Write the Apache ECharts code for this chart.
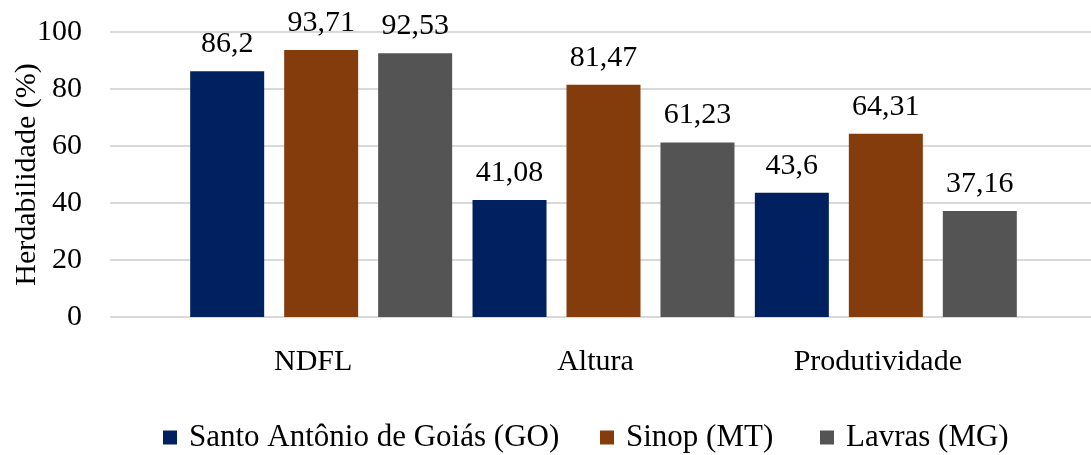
<!DOCTYPE html>
<html>
<head>
<meta charset="utf-8">
<script src="https://cdn.jsdelivr.net/npm/echarts@6/dist/echarts.min.js"></script>
<style>
  html, body { margin: 0; padding: 0; background: #fff; }
  #main { width: 1091px; height: 455px; }
</style>
</head>
<body>
<div id="main"></div>
<script>
var categories = ["NDFL", "Altura", "Produtividade"];
var seriesNames = ["Santo Antônio de Goiás (GO)", "Sinop (MT)", "Lavras (MG)"];
var goValues = [86.2, 41.08, 43.6];
var mtValues = [93.71, 81.47, 64.31];
var mgValues = [92.53, 61.23, 37.16];
var valueLabels = [
  ["86,2", "41,08", "43,6"],
  ["93,71", "81,47", "64,31"],
  ["92,53", "61,23", "37,16"]
];
var yTicks = [0, 20, 40, 60, 80, 100];

var colors = ["#002060", "#843c0c", "#545454"];
var font = "'Liberation Serif', 'Times New Roman', serif";
var fs = 30;
var legendLeft = [163, 600, 820];

var chart = echarts.init(document.getElementById("main"));

function makeSeries(i, values) {
  return {
    name: seriesNames[i],
    type: "bar",
    xAxisIndex: 1,
    yAxisIndex: 1,
    data: values,
    barWidth: 74,
    barGap: "27%",
    itemStyle: { color: colors[i] },
    label: {
      show: true,
      position: "top",
      distance: 12,
      fontFamily: font,
      fontSize: fs,
      color: "#000",
      formatter: function (p) {
        return valueLabels[i][p.dataIndex];
      },
    },
  };
}

// one legend per series so each item sits where it does in the picture
var legends = seriesNames.map(function (name, i) {
  return {
    left: legendLeft[i],
    top: 422,
    padding: 0,
    icon: "rect",
    itemWidth: 14,
    itemHeight: 14,
    textStyle: {
      fontFamily: font,
      fontSize: 31,
      color: "#000",
      padding: [0, 0, 0, 7],
    },
    data: [name],
  };
});

var option = {
  animation: false,
  textStyle: { fontFamily: font },
  grid: [
    // background grid, only for gridlines and y labels
    { left: 110, right: 0, top: 32, bottom: 138, outerBoundsMode: "none" },
    // bar grid
    { left: 180, right: 64, top: 32, bottom: 138, outerBoundsMode: "none" },
  ],
  legend: legends,
  xAxis: [
    { gridIndex: 0, type: "category", data: categories, show: false },
    {
      gridIndex: 1,
      type: "category",
      data: categories,
      axisLine: { show: false },
      axisTick: { show: false },
      axisLabel: {
        margin: 30,
        fontFamily: font,
        fontSize: fs,
        color: "#000",
        padding: [0, 16, 0, 0],
      },
    },
  ],
  yAxis: [
    {
      gridIndex: 0,
      type: "value",
      min: yTicks[0],
      max: yTicks[yTicks.length - 1],
      interval: 20,
      name: "Herdabilidade (%)",
      nameLocation: "middle",
      nameGap: 68,
      nameRotate: 90,
      nameMoveOverlap: false,
      nameTextStyle: { fontFamily: font, fontSize: fs, color: "#000" },
      axisLine: { show: false },
      axisTick: { show: false },
      axisLabel: { margin: 28, fontFamily: font, fontSize: fs, color: "#000" },
      splitLine: { lineStyle: { color: "#d9d9d9", width: 2 } },
    },
    {
      gridIndex: 1,
      type: "value",
      min: yTicks[0],
      max: yTicks[yTicks.length - 1],
      interval: 20,
      show: false,
      splitLine: { show: false },
    },
  ],
  series: [
    makeSeries(0, goValues),
    makeSeries(1, mtValues),
    makeSeries(2, mgValues),
  ],
};

chart.setOption(option);
</script>
</body>
</html>
